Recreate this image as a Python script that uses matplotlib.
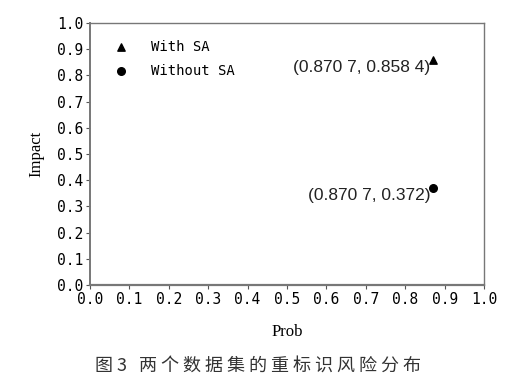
import numpy as np
import matplotlib
matplotlib.use("Agg")
import matplotlib.pyplot as plt

prob = [0.8707, 0.8707]
impact = [0.8584, 0.372]
labels = ["With SA", "Without SA"]
markers = ["^", "o"]
notes = ["(0.870 7, 0.858 4)", "(0.870 7, 0.372)"]
ticks = np.round(np.arange(0, 1.01, 0.1), 1)
caption = "图 3   两 个 数 据 集 的 重 标 识 风 险 分 布"

fig = plt.figure(figsize=(5.2, 3.9), dpi=100)
ax = fig.add_axes([0.173, 0.269, 0.758, 0.672])

for x, y, m, lab in zip(prob, impact, markers, labels):
    ax.scatter([x], [y], marker=m, s=28 if m == "^" else 30, color="black", label=lab, zorder=3)

for x, y, t in zip(prob, impact, notes):
    ax.text(x - 0.008, y - 0.03, t, ha="right", va="center", fontsize=12.5,
            family="Liberation Sans", color="#222222")

ax.set_xlim(0, 1)
ax.set_ylim(0, 1)
ax.set_xticks(ticks)
ax.set_yticks(ticks)
ax.set_xticklabels([f"{t:.1f}" for t in ticks], family="DejaVu Sans Mono", fontsize=10.5)
ax.set_yticklabels([f"{t:.1f}" for t in ticks], family="DejaVu Sans Mono", fontsize=10.5)
ax.tick_params(direction="out", length=3, width=0.8, color="#555555", pad=2)
for s in ax.spines.values():
    s.set_color("#777777")
    s.set_linewidth(1.0)
ax.spines["bottom"].set_linewidth(1.6)
ax.spines["left"].set_linewidth(1.4)

ax.set_xlabel("Prob", family="Liberation Serif", fontsize=12, labelpad=12)
ax.set_ylabel("Impact", family="Liberation Serif", fontsize=12, labelpad=9)

leg = ax.legend(loc="upper left", frameon=False, prop={"family": "DejaVu Sans Mono", "size": 10},
                handletextpad=1.2, labelspacing=0.75, borderaxespad=0.8, scatterpoints=1)

fig.text(0.496, 0.062, caption, ha="center", va="center", fontsize=13,
         family=["Noto Sans CJK SC", "DejaVu Sans"], color="#333333")

fig.savefig("out.png", dpi=100)
